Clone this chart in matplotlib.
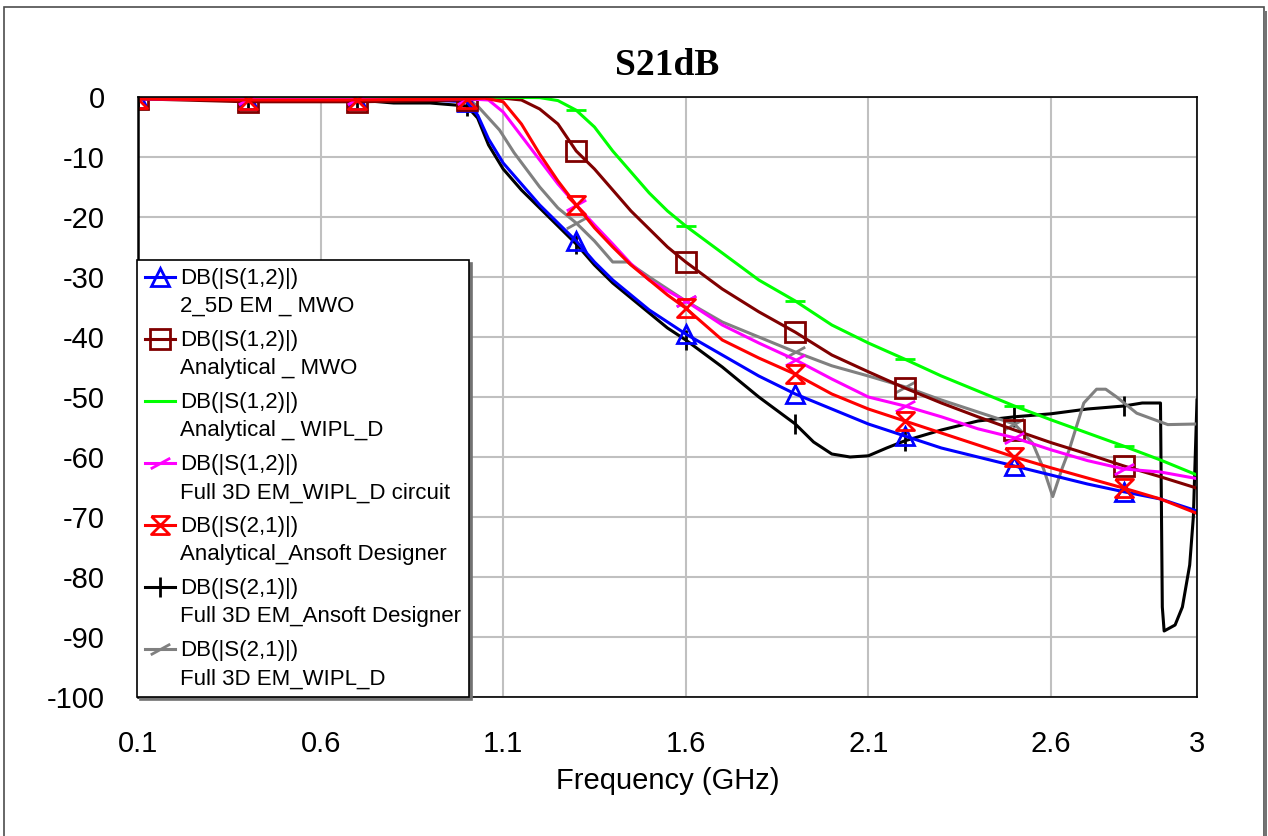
import numpy as np
import matplotlib
matplotlib.use("Agg")
from matplotlib import pyplot as plt
from matplotlib.path import Path
from matplotlib.patches import Rectangle
from matplotlib.lines import Line2D
from matplotlib.legend_handler import HandlerLine2D

plt.rcParams['font.family'] = ['Liberation Sans', 'DejaVu Sans']
plt.rcParams['axes.unicode_minus'] = False

# %% data (GHz, dB)
f_blue = [0.1, 0.4, 0.7, 0.9, 1.0, 1.03, 1.06, 1.1, 1.15, 1.2, 1.25, 1.3, 1.35, 1.4, 1.45, 1.5,
          1.55, 1.6, 1.7, 1.8, 1.9, 2.0, 2.1, 2.2, 2.3, 2.4, 2.5, 2.6, 2.7, 2.8, 2.9, 3.0]
s_blue = [-0.3, -0.5, -0.5, -0.5, -0.8, -3.0, -7.0, -11.0, -14.5, -18.0, -21.0, -24.0, -27.5, -30.5,
          -33.0, -35.5, -37.5, -39.5, -43.0, -46.5, -49.5, -52.0, -54.5, -56.5, -58.5, -60.0, -61.5,
          -63.0, -64.5, -65.8, -67.0, -69.0]

f_brown = [0.1, 0.4, 0.7, 1.0, 1.1, 1.15, 1.2, 1.25, 1.3, 1.35, 1.4, 1.45, 1.5, 1.55, 1.6, 1.7, 1.8,
           1.9, 2.0, 2.1, 2.2, 2.3, 2.4, 2.5, 2.6, 2.7, 2.8, 2.9, 3.0]
s_brown = [-0.3, -0.8, -0.8, -0.5, -0.2, -0.5, -2.0, -4.5, -9.0, -12.0, -15.5, -19.0, -22.0, -25.0,
           -27.5, -32.0, -35.8, -39.2, -43.0, -45.8, -48.5, -51.0, -53.3, -55.5, -57.6, -59.5, -61.5,
           -63.3, -65.2]

f_green = [0.1, 0.4, 0.7, 1.0, 1.2, 1.25, 1.3, 1.35, 1.4, 1.45, 1.5, 1.55, 1.6, 1.7, 1.8, 1.9, 2.0,
           2.1, 2.2, 2.3, 2.4, 2.5, 2.6, 2.7, 2.8, 2.9, 3.0]
s_green = [0.0, 0.0, 0.0, 0.0, -0.1, -0.6, -2.2, -5.0, -9.0, -12.5, -16.0, -19.0, -21.5, -26.0,
           -30.5, -34.0, -38.0, -41.0, -43.7, -46.5, -49.0, -51.5, -53.8, -56.0, -58.2, -60.5, -63.0]

f_mag = [0.1, 0.4, 0.7, 1.0, 1.06, 1.1, 1.15, 1.2, 1.25, 1.3, 1.35, 1.4, 1.45, 1.5, 1.55, 1.6, 1.7,
         1.8, 1.9, 2.0, 2.1, 2.2, 2.3, 2.4, 2.5, 2.6, 2.7, 2.8, 2.9, 3.0]
s_mag = [-0.3, -0.4, -0.4, -0.3, -0.5, -2.5, -6.5, -10.5, -14.5, -18.0, -21.3, -24.5, -27.8, -30.5,
         -32.3, -34.0, -38.0, -41.0, -43.8, -47.0, -50.0, -51.5, -53.3, -55.3, -56.8, -58.8, -60.6,
         -62.0, -62.5, -63.6]

f_red = [0.1, 0.4, 0.7, 1.0, 1.05, 1.1, 1.15, 1.2, 1.25, 1.3, 1.35, 1.4, 1.45, 1.5, 1.55, 1.6, 1.7,
         1.8, 1.9, 2.0, 2.1, 2.2, 2.3, 2.4, 2.5, 2.6, 2.7, 2.8, 2.9, 3.0]
s_red = [-0.3, -0.5, -0.5, -0.3, -0.2, -0.8, -4.5, -9.5, -14.0, -18.0, -21.8, -25.0, -28.0, -30.5,
         -33.0, -35.2, -40.5, -43.5, -46.2, -49.5, -52.0, -54.0, -56.0, -58.0, -60.0, -61.8, -63.5,
         -65.2, -67.0, -69.4]

f_black = [0.1, 0.4, 0.7, 0.8, 0.9, 1.0, 1.03, 1.06, 1.1, 1.15, 1.2, 1.25, 1.3, 1.35, 1.4, 1.45,
           1.5, 1.55, 1.6, 1.7, 1.8, 1.9, 1.95, 2.0, 2.05, 2.1, 2.15, 2.2, 2.3, 2.4, 2.5, 2.6, 2.7,
           2.8, 2.85, 2.9, 2.905, 2.91, 2.94, 2.96, 2.98, 2.99, 3.0]
s_black = [0.0, -0.3, -0.5, -1.0, -1.0, -1.5, -3.5, -8.0, -12.0, -15.5, -18.5, -21.5, -24.5, -28.0,
           -31.0, -33.5, -36.0, -38.5, -40.5, -45.0, -50.0, -54.5, -57.5, -59.5, -60.0, -59.8,
           -58.5, -57.3, -55.5, -54.0, -53.3, -52.8, -52.0, -51.5, -51.0, -51.0, -85.0, -89.0,
           -88.0, -85.0, -78.0, -70.0, -50.5]

f_gray = [0.1, 0.4, 0.7, 1.0, 1.03, 1.06, 1.09, 1.13, 1.2, 1.25, 1.3, 1.35, 1.4, 1.44, 1.5, 1.55,
          1.6, 1.7, 1.8, 1.9, 2.0, 2.1, 2.2, 2.3, 2.4, 2.5, 2.55, 2.58, 2.605, 2.63, 2.65, 2.69,
          2.725, 2.75, 2.78, 2.835, 2.92, 3.0]
s_gray = [-0.3, -0.4, -0.4, -0.3, -1.5, -3.5, -5.5, -9.3, -15.0, -18.5, -21.0, -24.0, -27.5, -27.5,
          -30.0, -32.0, -34.0, -37.5, -40.0, -42.5, -44.8, -46.5, -48.3, -50.5, -52.5, -54.5,
          -57.7, -62.0, -66.6, -62.0, -58.8, -51.0, -48.7, -48.7, -50.0, -52.7, -54.6, -54.5]

marker_freqs = [0.1, 0.4, 0.7, 1.0, 1.3, 1.6, 1.9, 2.2, 2.5, 2.8]

labels = ['DB(|S(1,2)|)\n2_5D EM _ MWO',
          'DB(|S(1,2)|)\nAnalytical _ MWO',
          'DB(|S(1,2)|)\nAnalytical _ WIPL_D',
          'DB(|S(1,2)|)\nFull 3D EM_WIPL_D circuit',
          'DB(|S(2,1)|)\nAnalytical_Ansoft Designer',
          'DB(|S(2,1)|)\nFull 3D EM_Ansoft Designer',
          'DB(|S(2,1)|)\nFull 3D EM_WIPL_D']

x_ticks = [0.1, 0.6, 1.1, 1.6, 2.1, 2.6, 3.0]
x_ticklabels = ['0.1', '0.6', '1.1', '1.6', '2.1', '2.6', '3']

# %% markers
hourglass = Path([(-1, 1), (1, 1), (-1, -1), (1, -1), (-1, 1)])
slash = Path([(-1, -0.55), (1, 0.55)], [Path.MOVETO, Path.LINETO])

series = [
    (f_blue, s_blue, '#0000ff', '^', 13, 3),
    (f_brown, s_brown, '#800000', 's', 15, 3),
    (f_green, s_green, '#00ff00', '_', 15, 3),
    (f_mag, s_mag, '#ff00ff', slash, 14, 3),
    (f_red, s_red, '#ff0000', hourglass, 13, 3),
    (f_black, s_black, '#000000', '|', 14, 2),
    (f_gray, s_gray, '#808080', slash, 14, 2.5),
]


class FirstLineHandler(HandlerLine2D):
    # put the legend sample next to the first text line
    def create_artists(self, legend, orig_handle, xdescent, ydescent, width, height, fontsize, trans):
        return super().create_artists(legend, orig_handle, xdescent, ydescent - 23,
                                      width, height, fontsize, trans)


fig = plt.figure(figsize=(12.68, 8.36), dpi=100)
ax = fig.add_axes([138 / 1268, 1 - 697 / 836, (1197 - 138) / 1268, 600 / 836])

for (f, s, c, m, ms, z), lab in zip(series, labels):
    f = np.array(f)
    mask = np.isin(np.round(f, 3), marker_freqs)
    ax.plot(f, s, color=c, lw=2.2, marker=m, markersize=ms, markevery=list(np.where(mask)[0]),
            markerfacecolor='none', markeredgecolor=c, markeredgewidth=2.0,
            label=lab, zorder=z)

ax.set_xlim(0.1, 3.0)
ax.set_ylim(-100, 0)
ax.set_xticks(x_ticks)
ax.set_xticklabels(x_ticklabels)
ax.set_yticks(np.arange(-100, 1, 10))
ax.tick_params(length=0, labelsize=21)
ax.tick_params(axis='x', pad=24)
ax.tick_params(axis='y', pad=24)
ax.grid(True, color='#c0c0c0', lw=1.5)
ax.set_axisbelow(True)
for sp in ax.spines.values():
    sp.set_color('black')
    sp.set_linewidth(1.2)
    sp.set_zorder(4)
ax.spines['left'].set_linewidth(1.8)

ax.set_xlabel('Frequency (GHz)', fontsize=21, labelpad=6)
ax.set_title('S21dB', fontsize=27, fontweight='bold', family='Liberation Serif', pad=16)

leg = ax.legend(loc='upper left', bbox_to_anchor=(137 / 1268, 1 - 260 / 836),
                bbox_transform=fig.transFigure, borderaxespad=0, fontsize=16,
                fancybox=False, edgecolor='black', framealpha=1,
                shadow={'color': '0.45', 'alpha': 1},
                handler_map={Line2D: FirstLineHandler()},
                handlelength=1.35, handletextpad=0.25, labelspacing=0.58, borderpad=0.35)
leg.get_frame().set_linewidth(1.2)
leg.set_zorder(10)
for t in leg.get_texts():
    t.set_linespacing(1.45)

# outer frame
fig.add_artist(Rectangle((4 / 1268, -0.02), 1260 / 1268, 1 - 7 / 836 + 0.02,
                         transform=fig.transFigure, fill=False, edgecolor='0.3', lw=1.2))
fig.add_artist(Rectangle((1264 / 1268, -0.02), 3 / 1268, 1 - 11 / 836 + 0.02,
                         transform=fig.transFigure, facecolor='0.45', edgecolor='none'))

fig.savefig('out.png', dpi=100)
